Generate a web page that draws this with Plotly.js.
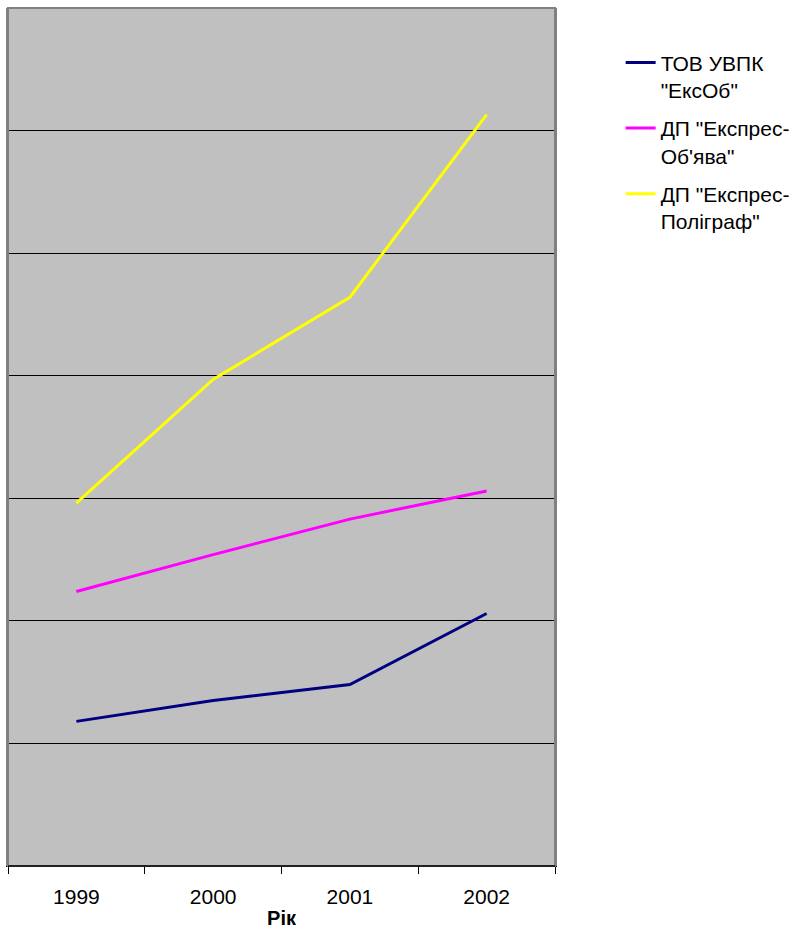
<!DOCTYPE html>
<html>
<head>
<meta charset="utf-8">
<script src="https://cdn.plot.ly/plotly-3.0.1.min.js"></script>
<style>html,body{margin:0;padding:0;background:#fff;}#chart{width:803px;height:929px;}</style>
</head>
<body>
<div id="chart"></div>
<script>
const years = ['1999', '2000', '2001', '2002'];
const seriesNames = ['ТОВ УВПК<br>"ЕксОб"', 'ДП "Експрес-<br>Об\'ява"', 'ДП "Експрес-<br>Поліграф"'];
const eksOb = [1.18, 1.35, 1.48, 2.06];
const obyava = [2.24, 2.54, 2.83, 3.06];
const poligraf = [2.96, 3.97, 4.64, 6.13];
const colors = ['#000080', '#FF00FF', '#FFFF00'];

const values = [eksOb, obyava, poligraf];
const traces = values.map((v, i) => ({
  x: years, y: v, name: seriesNames[i], type: 'scatter', mode: 'lines',
  legendgroup: 'g' + i,
  line: {color: colors[i], width: 3}
}));

const layout = {
  width: 803, height: 929,
  margin: {l: 8, r: 248, t: 8, b: 63},
  paper_bgcolor: '#ffffff',
  plot_bgcolor: '#C0C0C0',
  font: {family: 'Liberation Sans, Arial, sans-serif', size: 20, color: '#000'},
  showlegend: true,
  legend: {x: 1.12, y: 0.96, xanchor: 'left', yanchor: 'top', valign: 'top',
           font: {size: 21}, tracegroupgap: 8, bgcolor: 'rgba(0,0,0,0)'},
  xaxis: {
    type: 'category', tickson: 'boundaries', ticks: 'outside', ticklen: 7,
    tickcolor: '#000', tickwidth: 1, showline: true, linecolor: '#000', linewidth: 1,
    showgrid: false, zeroline: false, range: [-0.5, 3.5],
    ticklabelstandoff: 12,
    title: {text: '<b>Рік</b>', font: {size: 20}, standoff: 3},
    tickfont: {size: 21}
  },
  yaxis: {
    range: [0, 7], dtick: 1, showticklabels: false, ticks: '',
    showgrid: true, gridcolor: '#000', gridwidth: 1, zeroline: false,
    showline: true, linecolor: '#808080', linewidth: 2, mirror: true
  },
  shapes: [{type: 'rect', xref: 'paper', yref: 'paper', x0: 0, x1: 1, y0: 0, y1: 1,
            line: {color: '#808080', width: 2}, layer: 'above'},
           {type: 'line', xref: 'paper', yref: 'paper', x0: 0, x1: 1, y0: 0, y1: 0,
            line: {color: '#000', width: 1.5}, layer: 'above'}]
};

Plotly.newPlot('chart', traces, layout, {displayModeBar: false, staticPlot: true});
</script>
</body>
</html>
